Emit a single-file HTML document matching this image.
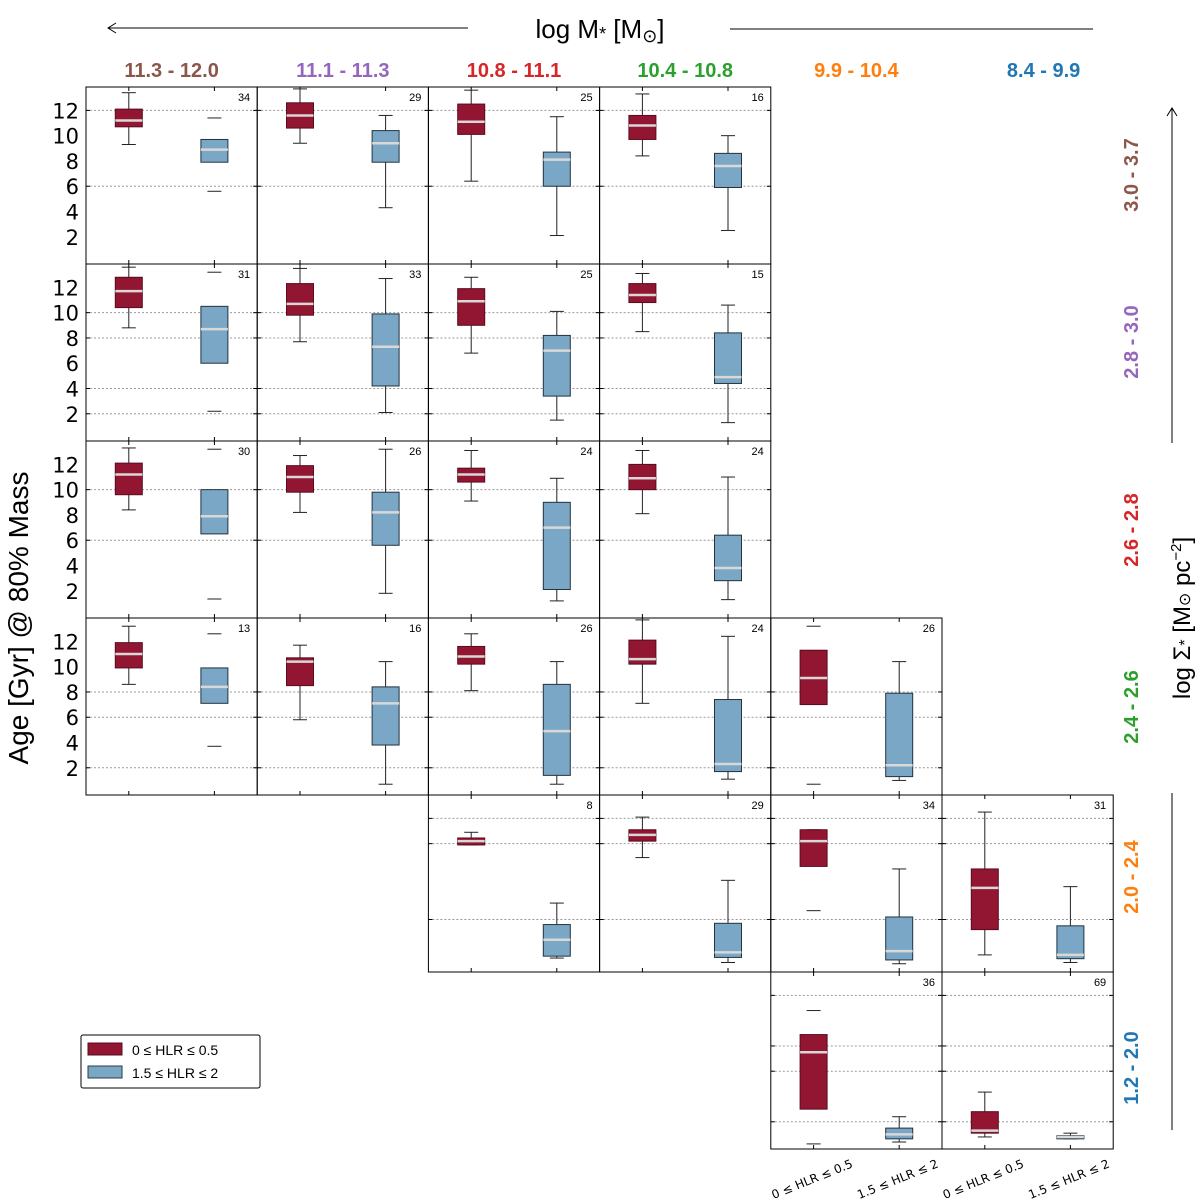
<!DOCTYPE html>
<html><head><meta charset="utf-8"><style>
html,body{margin:0;padding:0;background:#fff;}
svg{display:block;font-family:"Liberation Sans","DejaVu Sans",sans-serif;}
</style></head><body>
<svg id="chart" width="1200" height="1200" viewBox="0 0 1200 1200" xmlns="http://www.w3.org/2000/svg">
<g>
<line x1="108" y1="28" x2="468" y2="28" stroke="#000" stroke-width="1"/>
<path d="M116,23 L108,28 L116,33" fill="none" stroke="#000"/>
<line x1="730" y1="29" x2="1093" y2="29" stroke="#000" stroke-width="1"/>
<text x="600" y="38" font-size="26" text-anchor="middle">log M<tspan font-size="18" dy="2">*</tspan><tspan dy="-2"> [M</tspan><tspan font-size="18" dy="4">⊙</tspan><tspan dy="-4">]</tspan></text>
</g>
<text transform="translate(28,618) rotate(-90)" font-size="28" text-anchor="middle">Age [Gyr] @ 80% Mass</text>
<g>
<line x1="1172" y1="443" x2="1172" y2="108" stroke="#000"/>
<path d="M1167,116 L1172,108 L1177,116" fill="none" stroke="#000"/>
<line x1="1172" y1="793" x2="1172" y2="1130" stroke="#000"/>
<text transform="translate(1190,618) rotate(-90)" font-size="24" text-anchor="middle">log Σ<tspan font-size="16">*</tspan> [M<tspan font-size="16">⊙</tspan> pc<tspan font-size="15" dy="-9">−2</tspan><tspan dy="9">]</tspan></text>
</g>
<g id="plots"></g>
<g>
<rect x="81" y="1035" width="179" height="53" fill="#fff" stroke="#000" stroke-width="1" rx="2"/>
<rect x="88" y="1043" width="34" height="12" fill="#921531" stroke="#5a0c1e"/>
<text x="132" y="1055" font-size="14">0 ≤ HLR ≤ 0.5</text>
<rect x="88" y="1066" width="34" height="12" fill="#7ba7c6" stroke="#2a3a48"/>
<text x="132" y="1078" font-size="14">1.5 ≤ HLR ≤ 2</text>
</g>
</svg>
<script>
const colLabels = ["11.3 - 12.0","11.1 - 11.3","10.8 - 11.1","10.4 - 10.8","9.9 - 10.4","8.4 - 9.9"];
const rowLabels = ["3.0 - 3.7","2.8 - 3.0","2.6 - 2.8","2.4 - 2.6","2.0 - 2.4","1.2 - 2.0"];
const binColors = ["#8c564b","#9467bd","#d62728","#2ca02c","#ff7f0e","#1f77b4"];
const yTicks = [2,4,6,8,10,12];
const rowGrid = [[12,6],[10,8,4,2],[10,6],[8,6,2],[12,10,4],[12,8,6,2]];
// [row, col, count]
const panelCells = [[0,0,34],[0,1,29],[0,2,25],[0,3,16],
 [1,0,31],[1,1,33],[1,2,25],[1,3,15],
 [2,0,30],[2,1,26],[2,2,24],[2,3,24],
 [3,0,13],[3,1,16],[3,2,26],[3,3,24],[3,4,26],
 [4,2,8],[4,3,29],[4,4,34],[4,5,31],
 [5,4,36],[5,5,69]];
// [low whisker, q1, median, q3, high whisker]
const innerStats = [[9.3,10.7,11.2,12.1,13.4],[9.4,10.6,11.6,12.6,13.7],[6.4,10.1,11.1,12.5,13.6],[8.4,9.7,10.8,11.6,13.3],
 [8.8,10.4,11.7,12.8,13.6],[7.7,9.8,10.7,12.3,13.5],[6.8,9.0,10.9,11.9,12.8],[8.5,10.8,11.4,12.3,13.1],
 [8.4,9.6,11.2,12.1,13.3],[8.2,9.8,11.0,11.9,12.7],[9.1,10.6,11.2,11.7,13.1],[8.1,10.0,10.9,12.0,13.1],
 [8.6,9.9,11.0,11.9,13.2],[5.8,8.5,10.4,10.7,11.7],[8.1,10.2,10.8,11.6,12.6],[7.1,10.2,10.6,12.1,13.7],[0.7,7.0,9.1,11.3,13.2],
 [9.9,9.9,10.2,10.45,10.9],[8.9,10.2,10.7,11.1,12.1],[4.7,8.2,10.2,11.1,11.1],[1.2,3.2,6.5,8.0,12.5],
 [0.25,3.0,7.5,8.9,10.8],[0.8,1.1,1.3,2.8,4.35]];
const outerStats = [[5.6,7.9,8.9,9.7,11.4],[4.3,7.9,9.4,10.4,11.6],[2.1,6.0,8.1,8.7,11.5],[2.5,5.9,7.6,8.6,10.0],
 [2.2,6.0,8.7,10.5,13.2],[2.1,4.2,7.3,9.9,12.7],[1.5,3.4,7.0,8.2,10.1],[1.3,4.4,4.9,8.4,10.6],
 [1.35,6.5,7.9,10.0,13.2],[1.8,5.6,8.2,9.8,13.2],[1.2,2.1,7.0,9.0,10.9],[1.3,2.8,3.8,6.4,11.0],
 [3.7,7.1,8.4,9.9,12.6],[0.7,3.8,7.1,8.4,10.4],[0.7,1.4,4.9,8.6,10.4],[1.1,1.7,2.3,7.4,12.4],[1.0,1.3,2.2,7.9,10.4],
 [0.95,1.1,2.4,3.6,5.3],[0.6,1.0,1.4,3.7,7.1],[0.5,0.8,1.5,4.2,8.0],[0.6,0.9,1.2,3.5,6.6],
 [0.4,0.65,1.0,1.5,2.4],[0.65,0.65,0.8,0.9,1.1]];
const innerNoWhiskerLine = [0,0,0,0, 0,0,0,0, 0,0,0,0, 0,0,0,0, 1, 0,0,1,0, 1,0];
const outerNoWhiskerLine = [1,0,0,0, 1,0,0,0, 1,0,0,0, 1,0,0,0, 0, 0,0,0,0, 0,0];

const NS="http://www.w3.org/2000/svg";
const g=document.getElementById('plots');
const X0=86, PW=171.2, Y0=87, PH=177, YMAX=13.85, PXU=12.64;
function colX(c){return X0+c*PW;}
function rowY(r){return Y0+r*PH;}
function yScale(r,v){return rowY(r)+(YMAX-v)*PXU;}
function mk(tag,attrs,parent){const e=document.createElementNS(NS,tag);for(const k in attrs)e.setAttribute(k,attrs[k]);(parent||g).appendChild(e);return e;}

colLabels.forEach((t,i)=>{
  const e=mk('text',{x:colX(i)+PW/2-(i==5?-16:0),y:77,'font-size':20,'font-weight':'bold',fill:binColors[i],'text-anchor':'middle'});
  e.textContent=t;
  
  
});
rowLabels.forEach((t,i)=>{
  const cy=[175,342,530,707,877,1068][i];
  const e=mk('text',{transform:`translate(1138,${cy}) rotate(-90)`,'font-size':20,'font-weight':'bold',fill:binColors[i],'text-anchor':'middle'});
  e.textContent=t;
  
  
});

function drawBox(r,c,pos,s,fill,stroke,noLine){
  const cx=colX(c)+PW*pos, bw=27;
  const grp=mk('g',{});
  
  
  const [lo,q1,md,q3,hi]=s;
  if(!noLine){
    mk('line',{x1:cx,x2:cx,y1:yScale(r,q3),y2:yScale(r,hi),stroke:'#222','stroke-width':1},grp);
    mk('line',{x1:cx,x2:cx,y1:yScale(r,q1),y2:yScale(r,lo),stroke:'#222','stroke-width':1},grp);
  }
  mk('line',{x1:cx-7,x2:cx+7,y1:yScale(r,hi),y2:yScale(r,hi),stroke:'#222'},grp);
  mk('line',{x1:cx-7,x2:cx+7,y1:yScale(r,lo),y2:yScale(r,lo),stroke:'#222'},grp);
  const yt=yScale(r,q3), yb=yScale(r,q1);
  mk('rect',{x:cx-bw/2,y:yt,width:bw,height:Math.max(1,yb-yt),fill:fill,stroke:stroke,'stroke-width':1},grp);
  mk('line',{x1:cx-bw/2,x2:cx+bw/2,y1:yScale(r,md),y2:yScale(r,md),stroke:'#d8d8d8','stroke-width':2.5},grp);
}

panelCells.forEach((p,i)=>{
  const [r,c,n]=p;
  const x=colX(c), y=rowY(r);
  const pg=mk('g',{});
  
  
  rowGrid[r].forEach(v=>{
    const yy=yScale(r,v);
    mk('line',{x1:x,x2:x+PW,y1:yy,y2:yy,stroke:'#999','stroke-width':1,'stroke-dasharray':'2,2'},pg);
    mk('line',{x1:x,x2:x+4,y1:yy,y2:yy,stroke:'#000'},pg);
    mk('line',{x1:x+PW-4,x2:x+PW,y1:yy,y2:yy,stroke:'#000'},pg);
  });
  [0.25,0.75].forEach(f=>{
    mk('line',{x1:x+PW*f,x2:x+PW*f,y1:y,y2:y+4,stroke:'#000'},pg);
    mk('line',{x1:x+PW*f,x2:x+PW*f,y1:y+PH-4,y2:y+PH,stroke:'#000'},pg);
  });
  drawBox(r,c,0.25,innerStats[i],'#921531','#5a0c1e',innerNoWhiskerLine[i]);
  drawBox(r,c,0.75,outerStats[i],'#7ba7c6','#24323e',outerNoWhiskerLine[i]);
  mk('rect',{x:x,y:y,width:PW,height:PH,fill:'none',stroke:'#000','stroke-width':1},pg);
  const t=mk('text',{x:x+PW-7,y:y+14,'font-size':11,'text-anchor':'end'},pg);
  t.textContent=n;
  
  
});

for(let r=0;r<4;r++){
  yTicks.forEach(v=>{
    const t=mk('text',{x:79,y:yScale(r,v)+8,'font-size':21,'text-anchor':'end','font-family':'"DejaVu Sans",sans-serif'});
    t.textContent=v;
    
    
  });
}
const xTickNames=["0 ≤ HLR ≤ 0.5","1.5 ≤ HLR ≤ 2"];
[4,5].forEach(c=>{
  [0.25,0.75].forEach((f,k)=>{
    const cx=colX(c)+PW*f;
    const t=mk('text',{transform:`translate(${cx},1183) rotate(-22)`,'font-size':12,'text-anchor':'middle','font-family':'"DejaVu Sans",sans-serif'});
    t.textContent=xTickNames[k];
    
    
  });
});
</script>
</body></html>
